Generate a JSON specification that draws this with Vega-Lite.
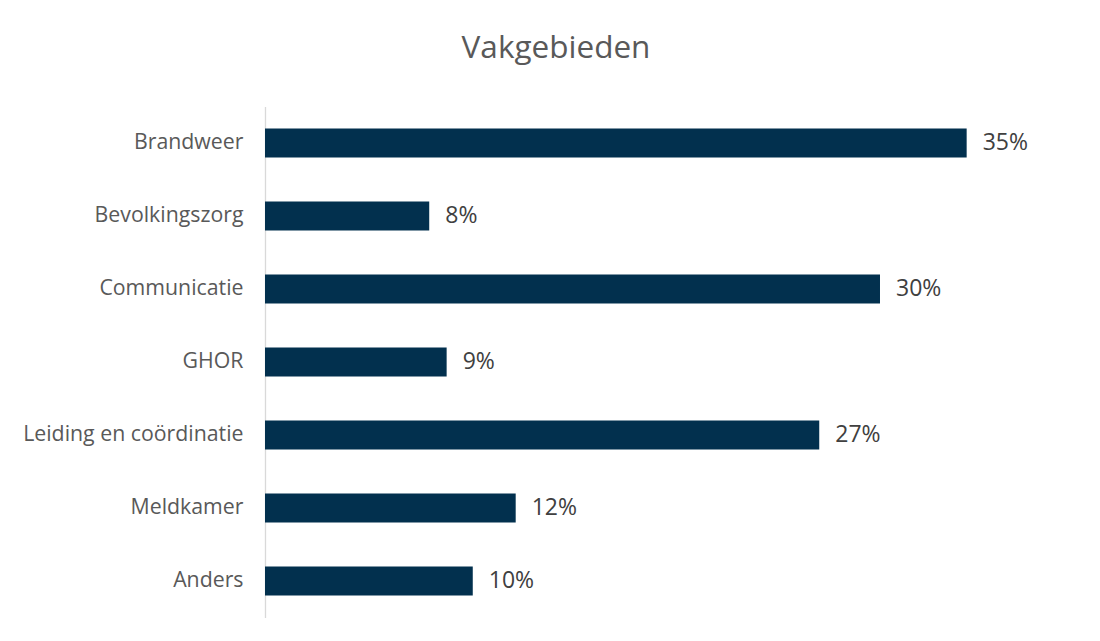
{
  "$schema": "https://vega.github.io/schema/vega-lite/v6.json",
  "autosize": {"type": "none"},
  "width": 810,
  "height": 511,
  "padding": {"left": 265, "top": 106.5, "right": 25, "bottom": 23.5},
  "background": "#ffffff",
  "title": {
    "text": "Vakgebieden",
    "anchor": "middle",
    "dx": -114,
    "baseline": "alphabetic",
    "offset": 17,
    "font": "Open Sans",
    "fontSize": 31.5,
    "fontWeight": "normal",
    "color": "#595959"
  },
  "data": {
    "values": [
      {"vakgebied": "Brandweer", "aandeel": 0.3465},
      {"vakgebied": "Bevolkingszorg", "aandeel": 0.0811},
      {"vakgebied": "Communicatie", "aandeel": 0.3037},
      {"vakgebied": "GHOR", "aandeel": 0.0897},
      {"vakgebied": "Leiding en coördinatie", "aandeel": 0.2737},
      {"vakgebied": "Meldkamer", "aandeel": 0.1238},
      {"vakgebied": "Anders", "aandeel": 0.1026}
    ]
  },
  "encoding": {
    "y": {
      "field": "vakgebied",
      "type": "nominal",
      "sort": null,
      "scale": {"paddingInner": 0.6, "paddingOuter": 0.3},
      "axis": {
        "title": null,
        "ticks": false,
        "labelPadding": 22,
        "labelLimit": 400,
        "labelFont": "Open Sans",
        "labelFontSize": 21.3,
        "labelColor": "#595959",
        "domainColor": "#D9D9D9",
        "domainWidth": 1.3
      }
    },
    "x": {
      "field": "aandeel",
      "type": "quantitative",
      "scale": {"domain": [0, 0.4], "nice": false},
      "axis": null
    }
  },
  "layer": [
    {"mark": {"type": "bar", "color": "#02304E"}},
    {
      "mark": {
        "type": "text",
        "align": "left",
        "baseline": "middle",
        "dx": 16,
        "font": "Open Sans",
        "fontSize": 23,
        "color": "#404040"
      },
      "encoding": {"text": {"field": "aandeel", "type": "quantitative", "format": ".0%"}}
    }
  ],
  "config": {"view": {"stroke": null}}
}
